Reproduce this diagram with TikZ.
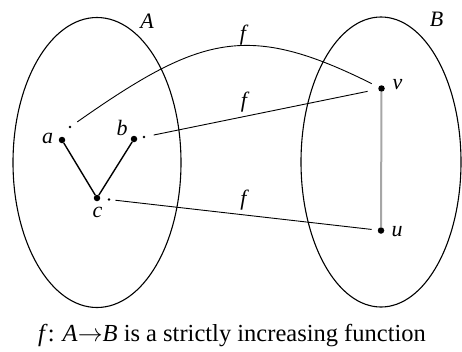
\documentclass[tikz,border=0pt]{standalone}
\usepackage{fontspec}
\setmainfont{Liberation Serif}
\begin{document}
\begin{tikzpicture}[x=1pt,y=-1pt,
  dot/.style={circle,fill=black,inner sep=0pt,minimum size=6.5pt},
  sdot/.style={circle,fill=black,inner sep=0pt,minimum size=2.6pt},
  lbl/.style={font=\fontsize{22}{22}\selectfont\itshape,inner sep=0pt},
  setline/.style={line width=1.1pt},
  fline/.style={line width=0.9pt},
  edgeline/.style={line width=1.4pt},
  orderline/.style={gray!70,line width=2pt}]
\useasboundingbox (0,0) rectangle (462,351);
% sets
\draw[setline] (97,162.5) ellipse [x radius=84pt, y radius=145pt];
\draw[setline] (381,162) ellipse [x radius=80pt, y radius=145pt];
\node[lbl] (lA) at (147,21) {A};
\node[lbl] (lB) at (436.5,19.5) {B};
% points
\node[dot] (a) at (62,140) {};
\node[dot] (b) at (134,139) {};
\node[dot] (c) at (97,198) {};
\node[dot] (v) at (381.5,88.5) {};
\node[dot] (u) at (381,230.5) {};
\node[sdot] (as) at (70,127) {};
\node[sdot] (bs) at (144,137) {};
\node[sdot] (cs) at (109,199.5) {};
\node[lbl] (la) at (47.5,138) {a};
\node[lbl] (lb) at (122,127.5) {b};
\node[lbl] (lc) at (97.5,212) {c};
\node[lbl] (lv) at (397.5,85) {v};
\node[lbl] (lu) at (397,232) {u};
% order edges
\draw[edgeline] (a) -- (c);
\draw[edgeline] (b) -- (c);
\draw[orderline] (v) -- (u);
% function arrows
\draw[fline, shorten <=7.4pt, shorten >=7.5pt] (as) .. controls (201,35) and (248,22) .. (v);
\draw[fline, shorten <=8.3pt, shorten >=10.7pt] (bs) -- (v);
\draw[fline, shorten <=5pt, shorten >=6pt] (cs) -- (u);
\node[lbl] (f1) at (243,35) {f};
\node[lbl] (f2) at (244,102) {f};
\node[lbl] (f3) at (243.5,200) {f};
% caption
\node[font=\fontsize{24.5}{24.5}\selectfont,anchor=base,inner sep=0pt] (cap) at (232,341)
  {\textit{f}: \textit{A}$\rightarrow$\textit{B} is a strictly increasing function};
\end{tikzpicture}
\end{document}
